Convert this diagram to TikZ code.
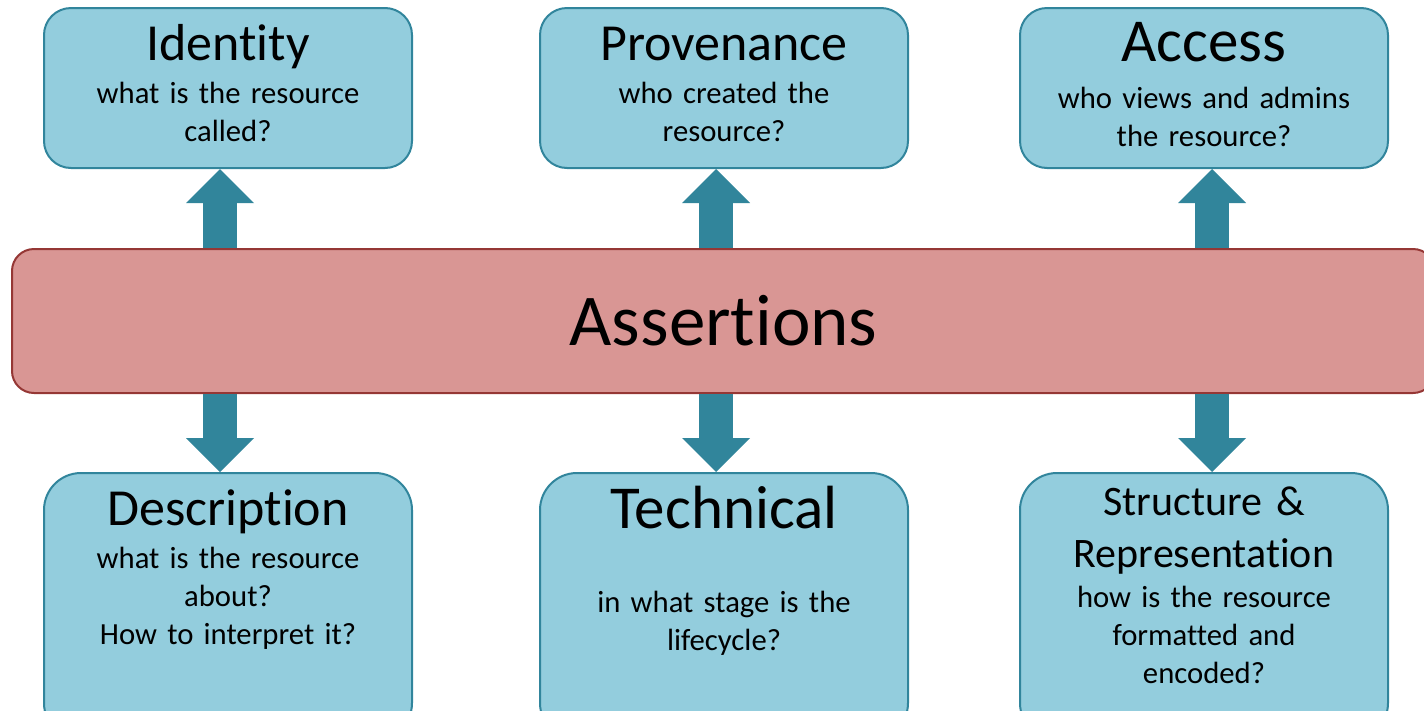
\documentclass[tikz,border=0pt]{standalone}
\usepackage{fontspec}
\setmainfont{Carlito}[Ligatures={NoCommon,NoContextual,NoRare},Contextuals=NoAlternate]
\usetikzlibrary{arrows.meta,positioning}

\definecolor{facetfill}{RGB}{147,205,221}
\definecolor{facetline}{RGB}{49,133,156}
\definecolor{arrowteal}{RGB}{49,133,155}
\definecolor{assertfill}{RGB}{217,150,148}
\definecolor{assertline}{RGB}{149,55,53}

\tikzset{
 facet/.style={draw=facetline,fill=facetfill,line width=2pt,rounded corners=27pt,minimum width=368pt,minimum height=160pt,inner sep=0pt},
 lowfacet/.style={facet,rounded corners=37pt,minimum height=267pt},
 title/.style={anchor=base,inner sep=0pt,font=\fontsize{52}{62}\selectfont},
 bigtitle/.style={title,font=\fontsize{61}{73}\selectfont},
 question/.style={anchor=base,inner sep=0pt,text width=360pt,align=center,font=\fontsize{30.7}{38}\selectfont},
 bigarrow/.style={draw=arrowteal,line width=34pt,-{Triangle[width=68pt,length=34pt,line width=0pt]}}
}

\begin{document}
\begin{tikzpicture}[x=1pt,y=-1pt]
\clip (0,0) rectangle (1424,710);

\node[facet] (idbox) at (228,88){};
\node[facet] (provbox) at (724,88){};
\node[facet] (accbox) at (1204,88){};
\node[lowfacet] (descbox) at (228,606.5){};
\node[lowfacet] (techbox) at (724,606.5){};
\node[lowfacet] (strucbox) at (1204,606.5){};

\node[draw=assertline,fill=assertfill,line width=2pt,rounded corners=22pt,minimum width=1423pt,minimum height=144pt,inner sep=0pt,font=\fontsize{73}{88}\selectfont] (assert) at (723.5,321){Assertions};

\node[title] (idtitle) at (228,60){Identity};
\node[question] (idq) at (228,103){what is the resource\\called?};
\node[title] (provtitle) at (724,60){Provenance};
\node[question] (provq) at (724,103){who created the\\resource?};
\node[bigtitle] (acctitle) at (1204,61){Access};
\node[question] (accq) at (1204,108){who views and admins\\the resource?};

\node[title] (desctitle) at (228,525){Description};
\node[question] (descq) at (228,568){what is the resource\\about?\\How to interpret it?};
\node[bigtitle] (techtitle) at (724,528){Technical};
\node[question] (techq) at (724,612){in what stage is the\\lifecycle?};
\node[title,font=\fontsize{42}{52}\selectfont,text width=360pt,align=center] (structitle) at (1204,515){Structure \&\\Representation};
\node[question] (strucq) at (1204,607){how is the resource\\formatted and\\encoded?};

% arrow columns
\coordinate (colA) at (220,0);
\coordinate (colB) at (716,0);
\coordinate (colC) at (1212,0);
\draw[bigarrow] (assert.north -| colA) -- (idbox.south -| colA);
\draw[bigarrow] (assert.north -| colB) -- (provbox.south -| colB);
\draw[bigarrow] (assert.north -| colC) -- (accbox.south -| colC);
\draw[bigarrow] (assert.south -| colA) -- (descbox.north -| colA);
\draw[bigarrow] (assert.south -| colB) -- (techbox.north -| colB);
\draw[bigarrow] (assert.south -| colC) -- (strucbox.north -| colC);
\end{tikzpicture}
\end{document}
